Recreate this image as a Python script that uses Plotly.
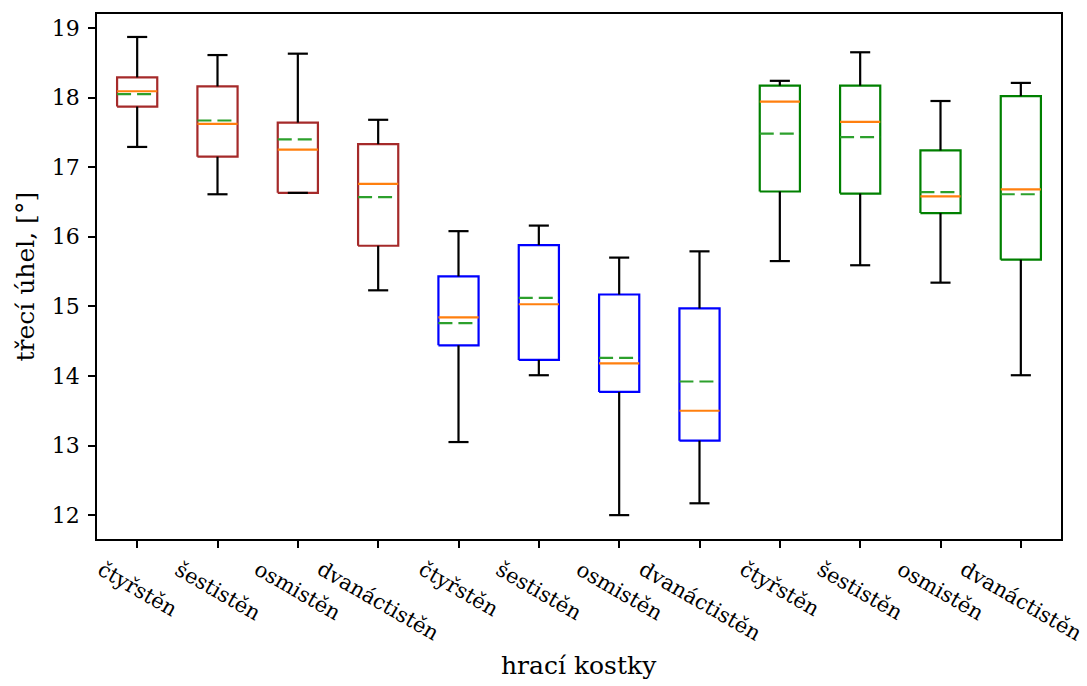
import plotly.graph_objects as go

# ---- data ----
labels = ["čtyřstěn", "šestistěn", "osmistěn", "dvanáctistěn",
          "čtyřstěn", "šestistěn", "osmistěn", "dvanáctistěn",
          "čtyřstěn", "šestistěn", "osmistěn", "dvanáctistěn"]
positions = [1, 2, 3, 4, 5, 6, 7, 8, 9, 10, 11, 12]
whislo = [17.29, 16.61, 16.63, 15.23, 13.05, 14.01, 12.00, 12.17, 15.65, 15.59, 15.34, 14.01]
q1 = [17.87, 17.15, 16.63, 15.87, 14.44, 14.23, 13.77, 13.07, 16.65, 16.62, 16.34, 15.67]
med = [18.09, 17.62, 17.25, 16.76, 14.84, 15.03, 14.18, 13.50, 17.94, 17.65, 16.58, 16.68]
q3 = [18.29, 18.16, 17.64, 17.33, 15.43, 15.88, 15.17, 14.97, 18.17, 18.17, 17.24, 18.02]
whishi = [18.87, 18.61, 18.63, 17.68, 16.08, 16.16, 15.70, 15.79, 18.24, 18.65, 17.95, 18.21]
means = [18.05, 17.67, 17.40, 16.57, 14.76, 15.12, 14.26, 13.92, 17.48, 17.43, 16.64, 16.61]
box_colors = ["#a52a2a"] * 4 + ["#0000ff"] * 4 + ["#008000"] * 4
yticks = [12, 13, 14, 15, 16, 17, 18, 19]

BOX_W = 0.5
CAP_W = 0.25
FONT = "DejaVu Serif"

fig = go.Figure()

# boxes
for i, p in enumerate(positions):
    l, r = p - BOX_W / 2, p + BOX_W / 2
    fig.add_trace(go.Scatter(
        x=[l, r, r, l, l], y=[q1[i], q1[i], q3[i], q3[i], q1[i]],
        mode="lines", line=dict(color=box_colors[i], width=2.2),
        showlegend=False, hoverinfo="skip"))

# whiskers and caps
wx, wy = [], []
for i, p in enumerate(positions):
    wx += [p, p, None, p, p, None]
    wy += [q1[i], whislo[i], None, q3[i], whishi[i], None]
    wx += [p - CAP_W / 2, p + CAP_W / 2, None, p - CAP_W / 2, p + CAP_W / 2, None]
    wy += [whislo[i], whislo[i], None, whishi[i], whishi[i], None]
fig.add_trace(go.Scatter(x=wx, y=wy, mode="lines",
                         line=dict(color="black", width=2.2),
                         showlegend=False, hoverinfo="skip"))

# medians
mx, my = [], []
for i, p in enumerate(positions):
    mx += [p - BOX_W / 2, p + BOX_W / 2, None]
    my += [med[i], med[i], None]
fig.add_trace(go.Scatter(x=mx, y=my, mode="lines",
                         line=dict(color="#ff7f0e", width=2.2),
                         showlegend=False, hoverinfo="skip"))

# means (dashed)
for i, p in enumerate(positions):
    fig.add_trace(go.Scatter(x=[p - BOX_W / 2, p + BOX_W / 2], y=[means[i], means[i]],
                             mode="lines",
                             line=dict(color="#2ca02c", width=2.2, dash="14px,6px"),
                             showlegend=False, hoverinfo="skip"))

# rotated x tick labels
annotations = []
for p, lab in zip(positions, labels):
    annotations.append(dict(x=p, y=0, xref="x", yref="paper", text=lab,
                            showarrow=False, textangle=30,
                            xanchor="center", yanchor="top", yshift=-15,
                            font=dict(family=FONT, size=21, color="black")))
annotations.append(dict(x=0.5, y=-0.0, xref="paper", yref="paper",
                        text="hrací kostky", showarrow=False,
                        xanchor="center", yanchor="middle", yshift=-126,
                        font=dict(family=FONT, size=25, color="black")))
annotations.append(dict(x=0, y=0.5, xref="paper", yref="paper",
                        text="třecí úhel, [°]", showarrow=False, textangle=-90,
                        xanchor="center", yanchor="middle", xshift=-72,
                        font=dict(family=FONT, size=25, color="black")))

fig.update_layout(
    width=1087, height=686,
    margin=dict(l=97, r=26, t=12, b=147),
    paper_bgcolor="white", plot_bgcolor="white",
    font=dict(family=FONT, size=22, color="black"),
    annotations=annotations,
    xaxis=dict(range=[0.5, 12.5], tickvals=positions, ticktext=[""] * 12,
               ticks="outside", ticklen=7, tickwidth=1.5, tickcolor="black",
               showline=True, linecolor="black", linewidth=1.5, mirror=True,
               showgrid=False, zeroline=False),
    yaxis=dict(range=[11.657, 19.2], tickvals=yticks,
               ticks="outside", ticklen=7, tickwidth=1.5, tickcolor="black",
               showline=True, linecolor="black", linewidth=1.5, mirror=True,
               showgrid=False, zeroline=False, ticklabelstandoff=4,
               tickfont=dict(family=FONT, size=22, color="black")),
)

fig.write_html("out.html")
